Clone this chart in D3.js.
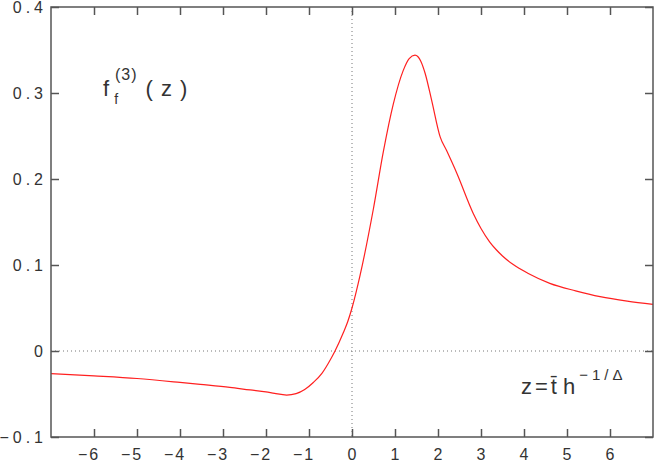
<!DOCTYPE html>
<html><head><meta charset="utf-8">
<script src="https://cdn.jsdelivr.net/npm/d3@7"></script>
<style>body{margin:0;background:#fff}svg{display:block}</style>
</head><body>
<svg id="c" width="654" height="462"></svg>
<script>
const zValues = [-7, -6, -5, -4, -3.53, -2.84, -2.37, -2.0, -1.8, -1.52, -1.3, -1.1, -0.9, -0.7, -0.55, -0.395, -0.2, -0.1, 0, 0.19, 0.5, 0.73, 0.96, 1.19, 1.33, 1.465, 1.6, 1.7, 1.85, 2.05, 2.2, 2.435, 2.82, 3.0, 3.2, 3.35, 3.5, 3.75, 4.1, 4.6, 5.2, 5.77, 6.4, 7];
const fValues = [-0.0264, -0.029, -0.032, -0.0365, -0.0388, -0.0423, -0.0453, -0.0475, -0.0493, -0.0512, -0.0496, -0.0448, -0.0366, -0.026, -0.0142, 0.0, 0.0215, 0.034, 0.050, 0.0885, 0.166, 0.232, 0.287, 0.326, 0.340, 0.344, 0.337, 0.323, 0.292, 0.249, 0.233, 0.207, 0.160, 0.1425, 0.127, 0.118, 0.1105, 0.1005, 0.0902, 0.0787, 0.0700, 0.0632, 0.0580, 0.0543];
const xTicks = [-6, -5, -4, -3, -2, -1, 0, 1, 2, 3, 4, 5, 6];
const yTicks = [-0.1, 0, 0.1, 0.2, 0.3, 0.4];
const yTickLabels = ["-0.1", "0", "0.1", "0.2", "0.3", "0.4"];

const svg = d3.select("#c");
const L = 51, R = 653, T = 7, B = 437;
const x = d3.scaleLinear().domain([-7, 7]).range([L, R]);
const y = d3.scaleLinear().domain([-0.1, 0.4]).range([B, T]);
const frame = "#555";
const font = "Liberation Sans, Arial, sans-serif";

// dotted zero lines
svg.append("line").attr("x1", L).attr("x2", R).attr("y1", y(0)).attr("y2", y(0))
  .attr("stroke", "#777").attr("stroke-width", 1).attr("stroke-dasharray", "1,3");
svg.append("line").attr("x1", x(0)).attr("x2", x(0)).attr("y1", T).attr("y2", B)
  .attr("stroke", "#777").attr("stroke-width", 1).attr("stroke-dasharray", "1,3");

// curve
const pts = zValues.map((z, i) => [z, fValues[i]]);
svg.append("path").datum(pts)
  .attr("d", d3.line().x(d => x(d[0])).y(d => y(d[1])).curve(d3.curveMonotoneX))
  .attr("fill", "none").attr("stroke", "#ff2020").attr("stroke-width", 1.2);

// axes with inward ticks
const tl = 8;
svg.append("g").attr("transform", `translate(0,${B})`)
  .call(d3.axisBottom(x).tickValues(xTicks).tickSizeInner(-tl).tickSizeOuter(0).tickFormat(""));
svg.append("g").attr("transform", `translate(0,${T})`)
  .call(d3.axisTop(x).tickValues(xTicks).tickSizeInner(-tl).tickSizeOuter(0).tickFormat(""));
svg.append("g").attr("transform", `translate(${L},0)`)
  .call(d3.axisLeft(y).tickValues(yTicks).tickSizeInner(-tl).tickSizeOuter(0).tickFormat(""));
svg.append("g").attr("transform", `translate(${R},0)`)
  .call(d3.axisRight(y).tickValues(yTicks).tickSizeInner(-tl).tickSizeOuter(0).tickFormat(""));
svg.selectAll(".domain").remove();
svg.selectAll(".tick line").attr("stroke", frame).attr("stroke-width", 1.5);

// frame
svg.append("rect").attr("x", L).attr("y", T).attr("width", R - L).attr("height", B - T)
  .attr("fill", "none").attr("stroke", frame).attr("stroke-width", 1.5);

// tick labels
svg.append("g").selectAll("text").data(xTicks).join("text")
  .attr("x", d => x(d) + (d < 0 ? -5 : 1)).attr("y", 460)
  .attr("text-anchor", "middle").attr("font-family", font).attr("font-size", 16)
  .attr("letter-spacing", 2).attr("fill", "#333")
  .text(d => d < 0 ? "\u2212" + Math.abs(d) : d);
svg.append("g").selectAll("text").data(yTicks).join("text")
  .attr("x", 47).attr("y", d => y(d) + 6)
  .attr("text-anchor", "end").attr("font-family", font).attr("font-size", 16)
  .attr("letter-spacing", 4).attr("fill", "#333")
  .text((d, i) => yTickLabels[i].replace("-", "\u2212"));

// annotations
const a1 = svg.append("text").attr("x", 103).attr("y", 96).attr("font-family", font)
  .attr("font-size", 22).attr("fill", "#333");
a1.append("tspan").text("f");
a1.append("tspan").attr("dx", 5).attr("dy", 8).attr("font-size", 14).text("f");
a1.append("tspan").attr("dx", -3).attr("dy", -24).attr("font-size", 16).attr("letter-spacing", 1).text("(3)");
a1.append("tspan").attr("dx", 8).attr("dy", 16).attr("letter-spacing", 8).text("(z)");

const a2 = svg.append("text").attr("x", 521).attr("y", 394).attr("font-family", font)
  .attr("font-size", 22).attr("fill", "#333");
a2.append("tspan").text("z");
a2.append("tspan").attr("dx", 3).text("=");
a2.append("tspan").attr("dx", 3).text("t\u0304");
a2.append("tspan").attr("dx", 6).text("h");
a2.append("tspan").attr("dx", 4).attr("dy", -14).attr("font-size", 15).attr("letter-spacing", 4).text("\u22121/\u0394");
</script>
</body></html>
